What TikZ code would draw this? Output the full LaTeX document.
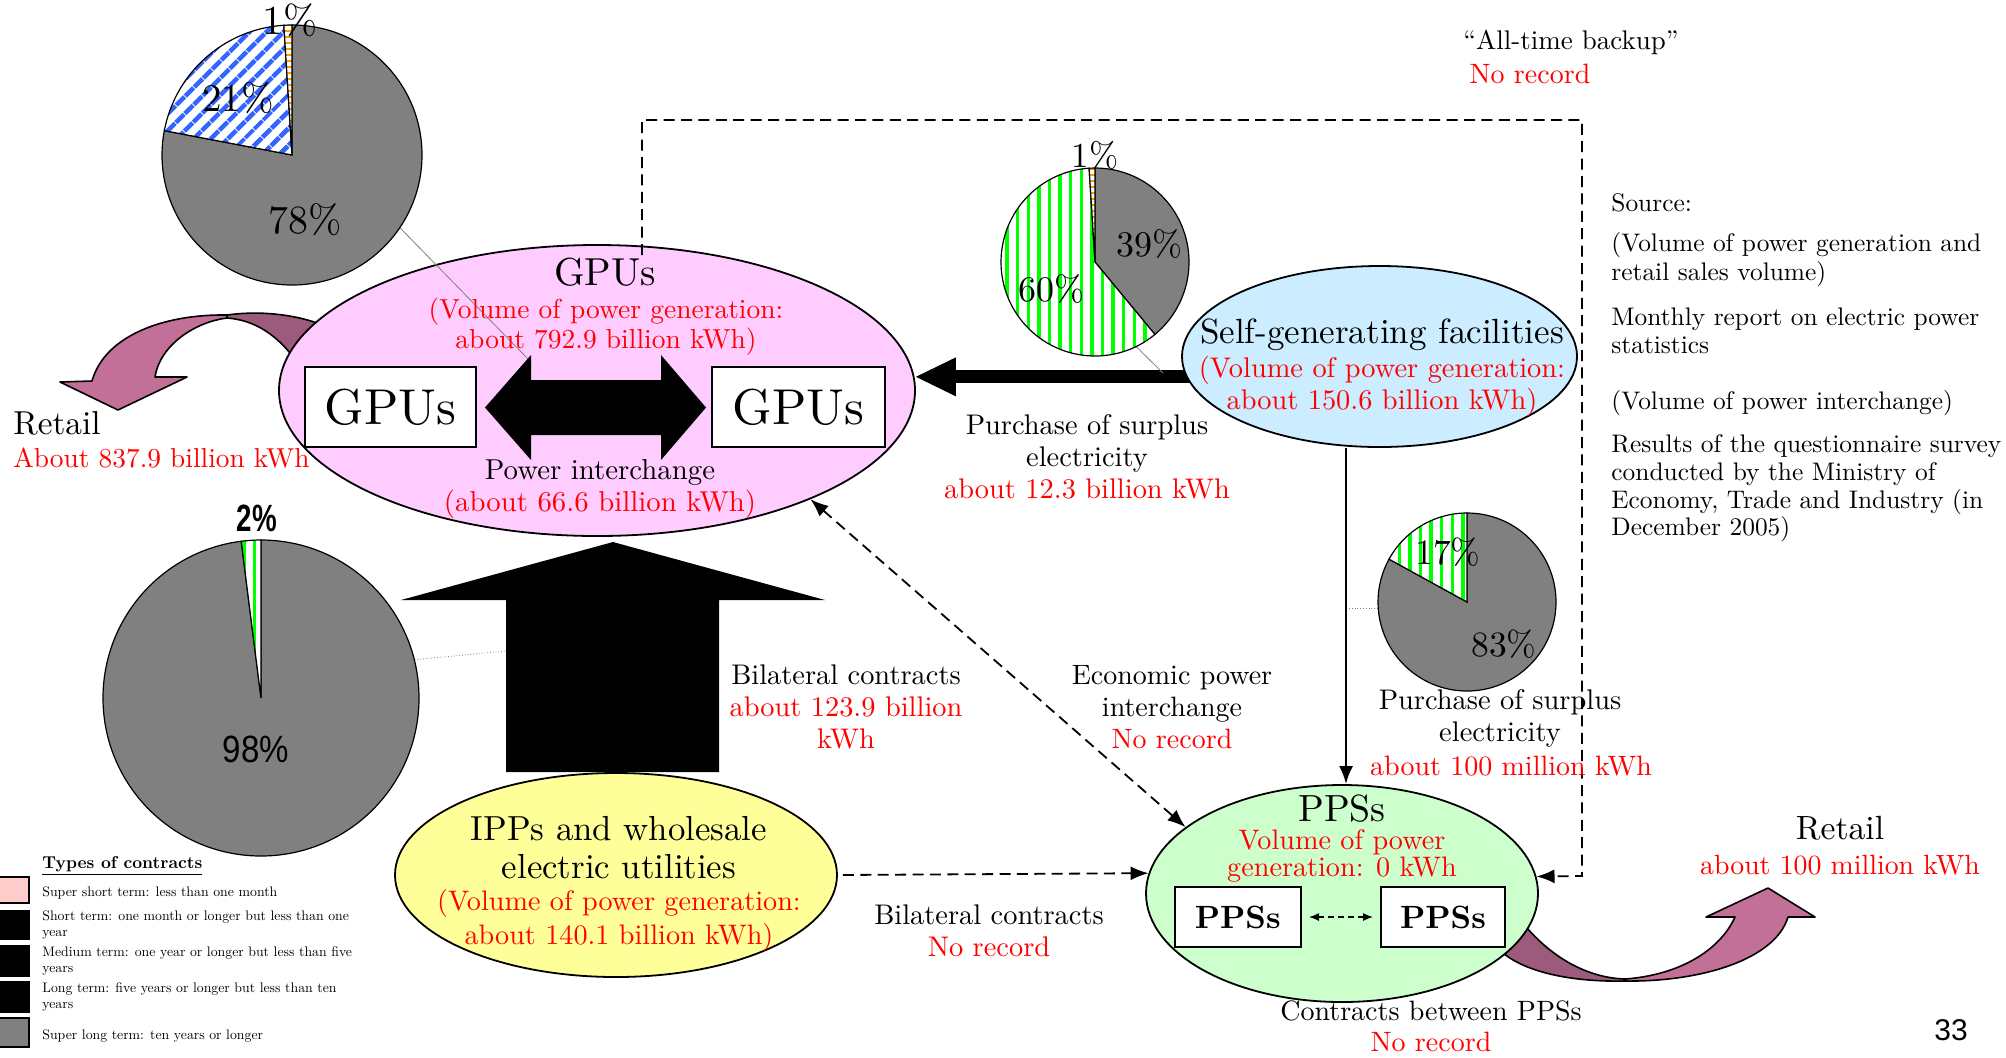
\documentclass[tikz,border=0pt]{standalone}
\usepackage{fontspec}
\setmainfont{lmroman10-regular.otf}[BoldFont=lmroman10-bold.otf]
\usepackage{graphicx}
\usetikzlibrary{shapes.geometric,arrows.meta,patterns.meta,calc,backgrounds}
\newfontfamily\sansf{Liberation Sans}
\newcommand\fsz[2]{\fontsize{#1}{#2}\selectfont}
\definecolor{gpufill}{RGB}{255,204,255}
\definecolor{sgfill}{RGB}{204,236,255}
\definecolor{ppsfill}{RGB}{204,255,204}
\definecolor{ippfill}{RGB}{255,255,153}
\definecolor{mauvelt}{RGB}{194,112,152}
\definecolor{mauvedk}{RGB}{156,90,124}
\definecolor{piegray}{RGB}{128,128,128}
\definecolor{pieblue}{RGB}{51,102,255}
\definecolor{piegreen}{RGB}{0,255,0}
\definecolor{pieorange}{RGB}{255,153,0}
\definecolor{legpink}{RGB}{255,204,204}
\newcommand\pslice[5]{%
  \path[#5] (#1) -- ++({-90+3.6*(#3)}:#2) arc[start angle={-90+3.6*(#3)}, end angle={-90+3.6*(#4)}, radius=#2] -- cycle;}
\tikzset{
  blob/.style={ellipse, draw=black, line width=0.9pt, inner sep=0pt},
  wbox/.style={rectangle, draw=black, line width=1pt, fill=white, inner sep=0pt},
  lbl/.style={inner sep=0pt, align=center},
  rtxt/.style={lbl, text=red},
  piec/.style={circle, inner sep=0pt},
  pgray/.style={fill=piegray, draw=black, line width=0.6pt},
  pgreen/.style={preaction={fill=white}, pattern={Lines[angle=90,distance=5.3pt,line width=1.7pt]}, pattern color=piegreen, draw=black, line width=0.6pt},
  pblue/.style={preaction={fill=white}, pattern={Lines[angle=45,distance=6.5pt,line width=2.6pt]}, pattern color=pieblue, draw=black, line width=0.6pt},
  porange/.style={preaction={fill=white}, pattern={Lines[angle=0,distance=3pt,line width=1.2pt]}, pattern color=pieorange, draw=black, line width=0.6pt},
  dashline/.style={dash pattern=on 5.5pt off 3.2pt, line width=0.9pt},
  leader/.style={gray, line width=0.4pt},
  legbox/.style={draw=black, line width=0.6pt},
  ribbon/.style={draw=black, line width=0.8pt, line join=round},
}
\begin{document}
\begin{tikzpicture}[x=0.5pt,y=-0.5pt]
\useasboundingbox (0,0) rectangle (2006,1057);
\begin{scope}[on background layer]
\fill[white] (0,0) rectangle (2006,1057);
\end{scope}

% retail ribbons (under the ellipses)
\filldraw[ribbon, fill=mauvedk] (227,315) .. controls (255,311) and (290,313) .. (320,324) -- (300,360) -- (290,353) .. controls (275,335) and (255,320) .. (227,318) -- cycle;
\filldraw[ribbon, fill=mauvelt] (92,381) .. controls (105,335) and (165,314) .. (227,315) -- (227,318) .. controls (195,322) and (160,345) .. (155,377) -- (187,377) -- (118,410) -- (60,382) -- cycle;
\filldraw[ribbon, fill=mauvedk] (1527,928) .. controls (1555,960) and (1590,978) .. (1625,979) -- (1625,981) .. controls (1580,982) and (1530,975) .. (1503,953) -- (1495,935) -- cycle;
\filldraw[ribbon, fill=mauvelt] (1625,981) .. controls (1700,982) and (1775,960) .. (1788,917) -- (1815,917) -- (1768,888) -- (1706,917) -- (1735,917) .. controls (1720,950) and (1680,975) .. (1625,979) -- cycle;

% ellipses
\node[blob, fill=gpufill, minimum width=318pt, minimum height=145.5pt] (gpu) at (597,390.5) {};
\node[blob, fill=sgfill, minimum width=197.5pt, minimum height=90.5pt] (sg) at (1379.5,356.5) {};
\node[blob, fill=ppsfill, minimum width=196pt, minimum height=108.5pt] (pps) at (1342,893.5) {};
\node[blob, fill=ippfill, minimum width=221pt, minimum height=102pt] (ipp) at (616,875) {};

% boxes
\node[wbox, minimum width=85.75pt, minimum height=40pt, font=\fsz{25.2}{30}] (gb1) at (390.25,407) {GPUs};
\node[wbox, minimum width=86.25pt, minimum height=40pt, font=\fsz{25.2}{30}] (gb2) at (798.25,407) {GPUs};
\node[wbox, minimum width=63.25pt, minimum height=30pt, font=\bfseries\fsz{16.1}{19}] (pb1) at (1237.75,917) {PPSs};
\node[wbox, minimum width=62pt, minimum height=30pt, font=\bfseries\fsz{16.1}{19}] (pb2) at (1443,917) {PPSs};

% pies
\node[piec, minimum size=130pt] (pie1) at (292,155) {};
\node[piec, minimum size=94pt] (pie2) at (1095,262) {};
\node[piec, minimum size=89pt] (pie3) at (1467,602) {};
\node[piec, minimum size=158pt] (pie4) at (261,698) {};

% leaders
\coordinate (sgb) at ($(sg.south)+(-33.5,0)$);
\coordinate (l1e) at (531,362);
\coordinate (l2e) at (1163,373);
\coordinate (l4e) at (506,651);
\draw[leader] (pie1.-34.6) -- (l1e);
\draw[leader] (pie2.-64.5) -- (l2e);
\draw[leader, densely dotted] (pie3.184.5) -- (pie3.184.5 -| sgb);
\draw[leader, densely dotted] (pie4.14) -- (l4e);

% block arrows
\fill[black] (485,407.5) -- (531,355) -- (531,380) -- (661,380) -- (661,355) -- (706,407.5) -- (661,460) -- (661,435) -- (531,435) -- (531,460) -- cycle;
\fill[black] (613,542) -- (825,600) -- (719,600) -- (719,772) -- (506,772) -- (506,600) -- (401,600) -- cycle;
\coordinate (sga) at ($(sg.186.7)+(12,0)$);
\begin{scope}[on background layer]
\draw[line width=6.5pt, -{Triangle[length=20pt,width=19.5pt,line width=0pt]}] (sga) -- (sga -| gpu.east);
\end{scope}

% connectors
\coordinate (bk0) at (642,255);
\coordinate (bk1) at (642,120);
\coordinate (bk2) at (1582,120);
\coordinate (bk3) at (1582,876);
\draw[dashline, -{Latex[length=9pt,width=7pt]}] (bk0) -- (bk1) -- (bk2) -- (bk3) -- (pps.5.2);
\draw[dashline, {Latex[length=9pt,width=7pt]}-{Latex[length=9pt,width=7pt]}] (gpu.-27.3) -- (pps.157.4);
\draw[dashline, -{Latex[length=9pt,width=7pt]}, shorten <=2.5pt] (ipp.east) -- (pps.174.2);
\draw[line width=1.2pt, -{Latex[length=9pt,width=7pt]}] (sgb) -- (sgb |- pps.north);
\draw[line width=0.6pt, densely dashed, {Latex[length=5pt,width=4pt]}-{Latex[length=5pt,width=4pt]}, shorten <=3.5pt, shorten >=3.5pt] (pb1.east) -- (pb2.west);

% pie slices
\pslice{pie1.center}{130}{0}{78}{pgray}
\pslice{pie1.center}{130}{78}{99}{pblue}
\pslice{pie1.center}{130}{99}{100}{porange}
\pslice{pie2.center}{94}{0}{39}{pgray}
\pslice{pie2.center}{94}{39}{99}{pgreen}
\pslice{pie2.center}{94}{99}{100}{porange}
\pslice{pie3.center}{89}{0}{83}{pgray}
\pslice{pie3.center}{89}{83}{100}{pgreen}
\pslice{pie4.center}{158}{0}{98}{pgray}
\pslice{pie4.center}{158}{98}{100}{pgreen}

% pie labels
\node[lbl, font=\fsz{20.5}{22}] (p1a) at (290,20) {1\%};
\node[lbl, font=\fsz{19.5}{21}] (p1b) at (238,98) {21\%};
\node[lbl, font=\fsz{20}{22}] (p1c) at (305,220) {78\%};
\node[lbl, font=\fsz{17.5}{19}] (p2a) at (1095,155) {1\%};
\node[lbl, font=\fsz{18}{20}] (p2b) at (1149,244) {39\%};
\node[lbl, font=\fsz{18}{20}] (p2c) at (1051,289) {60\%};
\node[lbl, font=\fsz{17.8}{20}] (p3a) at (1448,552) {17\%};
\node[lbl, font=\fsz{17.8}{20}] (p3b) at (1504,644) {83\%};
\node[lbl, font=\sansf\bfseries\fsz{19}{21}] (p4a) at (257,518) {\scalebox{0.73}[1]{2\%}};
\node[lbl, font=\sansf\fsz{19}{21}] (p4b) at (256,749) {\scalebox{0.87}[1]{98\%}};

% texts
\node[lbl, font=\fsz{19.5}{23}] (gput) at (605,272) {GPUs};
\node[rtxt, font=\fsz{13.75}{15}] (gpur) at (606,327) {(Volume of power generation:\\about 792.9 billion kWh)};
\node[lbl, font=\fsz{14.4}{16}] (gpupi) at (600,489) {Power interchange\\\textcolor{red}{(about 66.6 billion kWh)}};
\node[lbl, font=\fsz{17.5}{20}] (sgt) at (1382,335) {Self-generating facilities};
\node[rtxt, font=\fsz{14.2}{16}] (sgr) at (1382,386) {(Volume of power generation:\\about 150.6 billion kWh)};
\node[lbl, font=\fsz{18.9}{22}] (ppst) at (1342,809) {PPSs};
\node[rtxt, font=\fsz{14.1}{12.5}] (ppsr) at (1342,856) {Volume of power\\generation: 0 kWh};
\node[lbl, font=\fsz{17.4}{19}] (ippt) at (619,848) {IPPs and wholesale\\electric utilities};
\node[rtxt, font=\fsz{14.1}{17}] (ippr) at (619,920) {(Volume of power generation:\\about 140.1 billion kWh)};

\node[lbl, font=\fsz{14.2}{16}] (pur1) at (1087,457) {Purchase of surplus\\electricity\\\textcolor{red}{about 12.3 billion kWh}};
\node[lbl, font=\fsz{14.2}{16}] (pur2) at (1500,718) {Purchase of surplus\\electricity};
\node[rtxt, font=\fsz{14}{16}] (pur2r) at (1511,766) {about 100 million kWh};
\node[lbl, font=\fsz{14}{16}] (econ) at (1172,707) {Economic power\\interchange\\\textcolor{red}{No record}};
\node[lbl, font=\fsz{14.2}{16}] (bil1) at (846,707) {Bilateral contracts\\\textcolor{red}{about 123.9 billion}\\\textcolor{red}{kWh}};
\node[lbl, font=\fsz{14.2}{16}] (bil2) at (989,931) {Bilateral contracts\\\textcolor{red}{No record}};
\node[lbl, font=\fsz{14}{15.5}] (cbp) at (1431,1026) {Contracts between PPSs\\\textcolor{red}{No record}};
\node[lbl, anchor=west, font=\fsz{16.6}{18}] (retl) at (13,423) {Retail};
\node[rtxt, anchor=west, font=\fsz{13.7}{16}] (retlr) at (13,458) {About 837.9 billion kWh};
\node[lbl, font=\fsz{16.8}{18}] (retr) at (1840,828) {Retail};
\node[rtxt, font=\fsz{13.9}{16}] (retrr) at (1840,865) {about 100 million kWh};
\node[lbl, font=\fsz{13.5}{16}] (atb) at (1571,42) {“All-time backup”};
\node[rtxt, font=\fsz{14}{16}] (atbr) at (1530,74) {No record};
\node[lbl, font=\sansf\fsz{15}{18}] (pgno) at (1951,1030) {33};

% source
\node[lbl, anchor=west, align=left, font=\fsz{12.7}{14}] (src0) at (1611,203) {Source:};
\node[lbl, anchor=west, align=left, font=\fsz{12.7}{14.5}] (src1) at (1611,259.5) {(Volume of power generation and\\retail sales volume)};
\node[lbl, anchor=west, align=left, font=\fsz{12.7}{14}] (src2) at (1611,331) {Monthly report on electric power\\statistics};
\node[lbl, anchor=west, align=left, font=\fsz{12.7}{14}] (src3) at (1611,403) {(Volume of power interchange)};
\node[lbl, anchor=west, align=left, font=\fsz{12.7}{13.8}] (src4) at (1611,488.5) {Results of the questionnaire survey\\conducted by the Ministry of\\Economy, Trade and Industry (in\\December 2005)};

% legend
\node[lbl, anchor=west, font=\bfseries\fsz{8.6}{10}] (legt) at (42,866) {\underline{Types of contracts}};
\draw[legbox, fill=legpink] (-5,877) rectangle (29,903);
\draw[legbox, fill=black] (-5,911) rectangle (29,939);
\draw[legbox, fill=black] (-5,946) rectangle (29,976);
\draw[legbox, fill=black] (-5,982) rectangle (29,1012);
\draw[legbox, fill=piegray] (-5,1018) rectangle (29,1047);
\node[lbl, anchor=west, align=left, font=\fsz{6.9}{8}] (leg1) at (42,893) {Super short term: less than one month};
\node[lbl, anchor=west, align=left, font=\fsz{6.9}{8}] (leg2) at (42,925) {Short term: one month or longer but less than one\\year};
\node[lbl, anchor=west, align=left, font=\fsz{6.9}{8}] (leg3) at (42,961) {Medium term: one year or longer but less than five\\years};
\node[lbl, anchor=west, align=left, font=\fsz{6.9}{8}] (leg4) at (42,997) {Long term: five years or longer but less than ten\\years};
\node[lbl, anchor=west, align=left, font=\fsz{6.9}{8}] (leg5) at (42,1036) {Super long term: ten years or longer};
\end{tikzpicture}
\end{document}
